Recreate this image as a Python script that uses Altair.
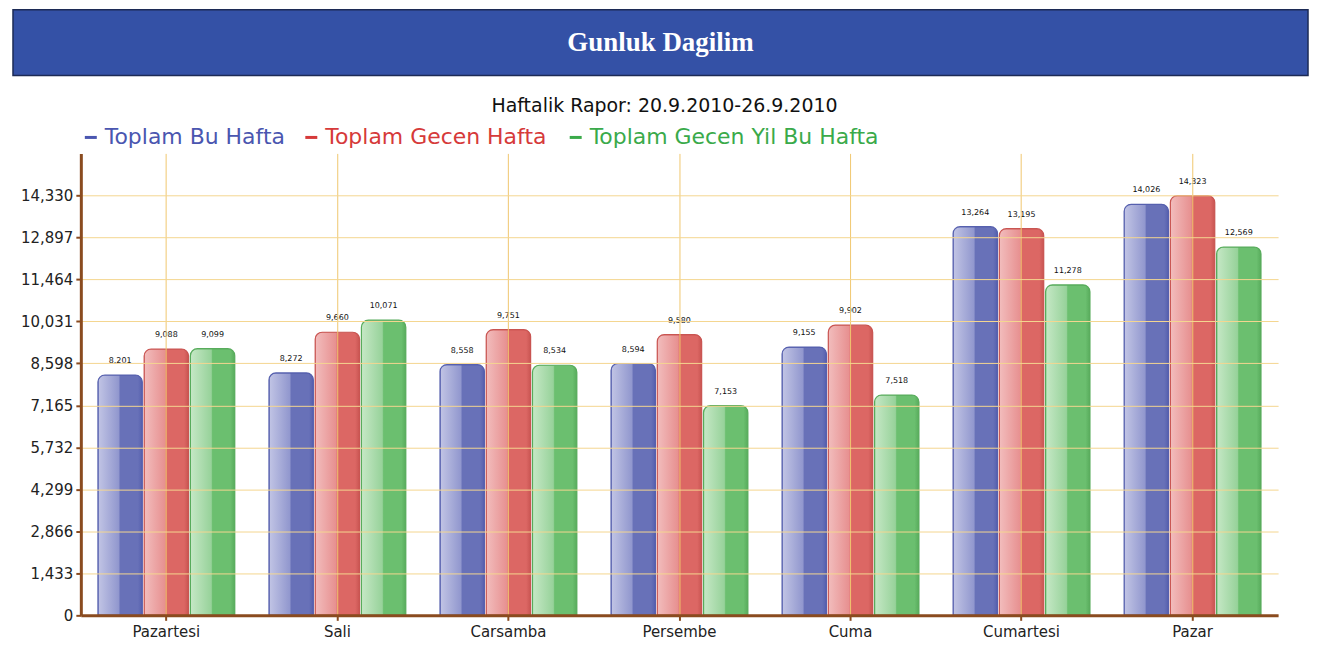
import altair as alt
import pandas as pd

# ---- data ----
gunler = ["Pazartesi", "Sali", "Carsamba", "Persembe", "Cuma", "Cumartesi", "Pazar"]
seriler = ["Toplam Bu Hafta", "Toplam Gecen Hafta", "Toplam Gecen Yil Bu Hafta"]
bu_hafta = [8201, 8272, 8558, 8594, 9155, 13264, 14026]
gecen_hafta = [9088, 9660, 9751, 9580, 9902, 13195, 14323]
gecen_yil = [9099, 10071, 8534, 7153, 7518, 11278, 12569]
y_ticks = [0, 1433, 2866, 4299, 5732, 7165, 8598, 10031, 11464, 12897, 14330]
y_max = 15763

baslik = "Gunluk Dagilim"
alt_baslik = "Haftalik Rapor: 20.9.2010-26.9.2010"

renk_koyu = ["#6871B8", "#DC6764", "#6BBF6F"]
renk_acik = ["#C2C5E5", "#F2BDBD", "#C6E8C6"]
renk_orta = ["#9197CE", "#E79090", "#97D29A"]
renk_kenar = ["#5660AE", "#C95552", "#58AC5C"]
renk_yazi = ["#4A56B0", "#D63A3A", "#3AAA4A"]

rows = []
for s, vals in zip(seriler, [bu_hafta, gecen_hafta, gecen_yil]):
    for g, v in zip(gunler, vals):
        rows.append({"gun": g, "seri": s, "deger": v})
df = pd.DataFrame(rows)

W, H = 1200, 463
BROWN = "#8A4B1F"

x_enc = alt.X("gun:N", sort=gunler, title=None,
              scale=alt.Scale(paddingInner=0.2, paddingOuter=0.1),
              axis=alt.Axis(labelAngle=0, labelFontSize=15, labelFont="DejaVu Sans",
                            labelColor="#222", labelPadding=4, tickColor=BROWN,
                            tickSize=5, tickWidth=2, domainColor=BROWN, domainWidth=3,
                            grid=True, gridColor="#F0C76E", gridWidth=1, zindex=1))
y_enc = alt.Y("deger:Q", title=None,
              scale=alt.Scale(domain=[0, y_max], nice=False),
              axis=alt.Axis(values=y_ticks, format=",.0f", labelFontSize=15,
                            labelFont="DejaVu Sans", labelColor="#222",
                            tickColor=BROWN, tickSize=5, tickWidth=2,
                            domainColor=BROWN, domainWidth=3, labelPadding=3,
                            grid=True, gridColor="#F4D690", gridWidth=1, zindex=1))
xo_enc = alt.XOffset("seri:N", sort=seriler,
                     scale=alt.Scale(domain=seriler, paddingInner=0.04))

base = alt.Chart(df)

layers = []
for i, s in enumerate(seriler):
    grad = alt.Gradient(
        gradient="linear", x1=0, x2=1, y1=0, y2=0,
        stops=[
            alt.GradientStop(color=renk_acik[i], offset=0.0),
            alt.GradientStop(color=renk_orta[i], offset=0.47),
            alt.GradientStop(color=renk_koyu[i], offset=0.5),
            alt.GradientStop(color=renk_koyu[i], offset=0.9),
            alt.GradientStop(color=renk_kenar[i], offset=1.0),
        ],
    )
    layers.append(
        base.transform_filter(alt.datum.seri == s)
        .mark_bar(cornerRadiusTopLeft=7, cornerRadiusTopRight=7, color=grad,
                  stroke=renk_kenar[i], strokeWidth=1.2)
        .encode(x=x_enc, y=y_enc, xOffset=xo_enc)
    )

labels = base.mark_text(fontSize=8, font="DejaVu Sans", color="#111",
                        baseline="bottom", dy=-10).encode(
    x=x_enc, y=y_enc, xOffset=xo_enc,
    text=alt.Text("deger:Q", format=","),
)
layers.append(labels)

deco = alt.Chart(alt.Data(values=[{}]))
banner = deco.mark_rect(fill="#3451A6", stroke="#1C2A55", strokeWidth=1.5).encode(
    x=alt.value(-68), x2=alt.value(1230), y=alt.value(-144), y2=alt.value(-78))
title_txt = deco.mark_text(text=baslik, font="Liberation Serif", fontSize=27,
                           fontWeight="bold", color="white").encode(
    x=alt.value(581), y=alt.value(-111))
sub_txt = deco.mark_text(text=alt_baslik, font="DejaVu Sans", fontSize=19,
                         color="#111").encode(
    x=alt.value(585), y=alt.value(-47))

# manual legend (coloured labels)
leg_x = [4, 225, 490]
leg_layers = []
for i, s in enumerate(seriler):
    leg_layers.append(deco.mark_rule(color=renk_yazi[i], strokeWidth=3).encode(
        x=alt.value(leg_x[i]), x2=alt.value(leg_x[i] + 12), y=alt.value(-16)))
    leg_layers.append(deco.mark_text(text=s, font="DejaVu Sans", fontSize=22,
                                     color=renk_yazi[i], align="left",
                                     baseline="middle").encode(
        x=alt.value(leg_x[i] + 20), y=alt.value(-16)))

chart = alt.layer(banner, title_txt, sub_txt, *leg_layers, *layers).properties(
    width=W, height=H,
    padding={"left": 4, "top": 0, "right": 5, "bottom": 5},
).configure(background="white").configure_view(stroke=None)

chart.save("out.html", embed_options={"renderer": "svg", "actions": False})
